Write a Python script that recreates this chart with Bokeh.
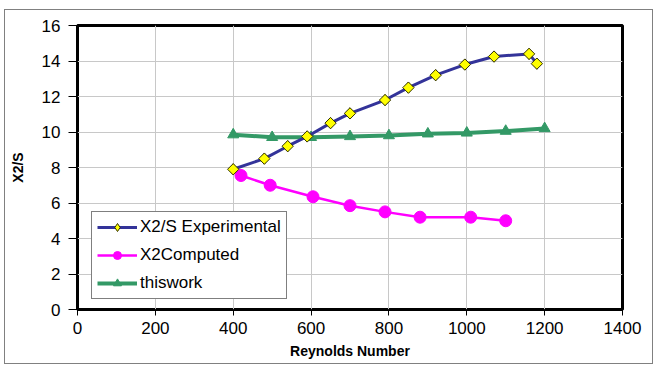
from bokeh.plotting import figure
from bokeh.models import Range1d, FixedTicker, Legend, LegendItem
from bokeh.embed import file_html
from bokeh.resources import INLINE

# Data
re_exp = [400, 480, 540, 590, 650, 700, 790, 850, 920, 995, 1070, 1160, 1180]
x2s_exp = [7.9, 8.5, 9.2, 9.75, 10.5, 11.05, 11.8, 12.5, 13.2, 13.8, 14.25, 14.4, 13.85]

re_comp = [420, 495, 605, 700, 790, 880, 1010, 1100]
x2_comp = [7.55, 7.0, 6.35, 5.85, 5.5, 5.2, 5.2, 5.0]

re_work = [400, 500, 600, 700, 800, 900, 1000, 1100, 1200]
x2_work = [9.85, 9.7, 9.7, 9.75, 9.8, 9.9, 9.95, 10.05, 10.2]

x_ticks = [0, 200, 400, 600, 800, 1000, 1200, 1400]
y_ticks = [0, 2, 4, 6, 8, 10, 12, 14, 16]

FONT = "'Liberation Sans', Arial, sans-serif"

p = figure(width=656, height=367, output_backend="svg", toolbar_location=None,
           x_range=Range1d(0, 1400), y_range=Range1d(0, 16),
           min_border_left=77, min_border_right=34, min_border_top=25, min_border_bottom=58)

# outer chart border drawn on the host element behind a transparent border area
p.styles = {
    "background-color": "white",
    "box-shadow": ("inset 4px 9px 0 0 white, inset -3px -3px 0 0 white, "
                   "inset 5px 10px 0 0 #808080, inset -4px -4px 0 0 #808080"),
}

p.outline_line_color = "black"
p.outline_line_width = 3
p.background_fill_color = "white"
p.border_fill_color = None
p.border_fill_alpha = 0

for ax in (p.xaxis[0], p.yaxis[0]):
    ax.axis_line_color = None
    ax.major_tick_in = 0
    ax.major_tick_line_color = "black"
    ax.major_tick_line_width = 1
    ax.minor_tick_line_color = None
    ax.major_label_text_font = FONT
    ax.major_label_text_font_size = "17px"
    ax.major_label_text_color = "black"
    ax.axis_label_text_font = FONT
    ax.axis_label_text_font_style = "bold"
    ax.axis_label_text_color = "black"

p.xaxis.ticker = FixedTicker(ticks=x_ticks)
p.yaxis.ticker = FixedTicker(ticks=y_ticks)
p.xaxis.axis_label = "Reynolds Number"
p.yaxis.axis_label = "X2/S"
p.xaxis.axis_label_text_font_size = "14px"
p.yaxis.axis_label_text_font_size = "14px"
p.xaxis.major_tick_out = 6
p.yaxis.major_tick_out = 9
p.xaxis.major_label_standoff = 6
p.yaxis.major_label_standoff = 8
p.xaxis.axis_label_standoff = 6
p.yaxis.axis_label_standoff = 13

p.xgrid.ticker = FixedTicker(ticks=x_ticks)
p.ygrid.ticker = FixedTicker(ticks=y_ticks)
p.grid.grid_line_color = "#c8c8c8"
p.grid.grid_line_width = 1

l_work = p.line(re_work, x2_work, line_color="#339966", line_width=4)
m_work = p.scatter(re_work, x2_work, marker="triangle", size=11,
                   fill_color="#339966", line_color="#339966")

l_comp = p.line(re_comp, x2_comp, line_color="#FF00FF", line_width=2.5)
m_comp = p.scatter(re_comp, x2_comp, marker="circle", size=12,
                   fill_color="#FF00FF", line_color="#FF00FF")

l_exp = p.line(re_exp, x2s_exp, line_color="#333399", line_width=3)
# diamond glyph (used for the legend swatch), sitting under the rotated squares
m_exp_key = p.scatter(re_exp, x2s_exp, marker="diamond", size=11,
                      fill_color="#FFFF00", line_color="#333300", line_width=1)
m_exp = p.scatter(re_exp, x2s_exp, marker="square", size=8, angle=0.7853981634,
                  fill_color="#FFFF00", line_color="#333300", line_width=1)

legend = Legend(items=[
    LegendItem(label="X2/S Experimental", renderers=[l_exp, m_exp_key]),
    LegendItem(label="X2Computed", renderers=[l_comp, m_comp]),
    LegendItem(label="thiswork", renderers=[l_work, m_work]),
], location=(14, 10))
legend.margin = 0
legend.padding = 5
legend.spacing = 8
legend.label_height = 20
legend.glyph_height = 20
legend.glyph_width = 40
legend.label_standoff = 3
legend.label_text_font = FONT
legend.label_text_font_size = "17px"
legend.label_text_color = "black"
legend.border_line_color = "black"
legend.border_line_width = 1
legend.background_fill_color = "white"
legend.background_fill_alpha = 1
p.add_layout(legend, "center")

open("out.html", "w").write(file_html(p, INLINE))
